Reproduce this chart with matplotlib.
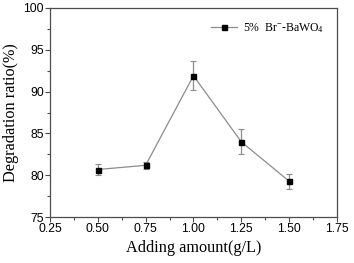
import numpy as np
import matplotlib
matplotlib.use('Agg')
import matplotlib.pyplot as plt
from matplotlib.ticker import MultipleLocator
from matplotlib.lines import Line2D

# data
amount = [0.50, 0.75, 1.00, 1.25, 1.50]
ratio = [80.7, 81.2, 91.9, 84.0, 79.3]
err = [0.6, 0.45, 1.7, 1.5, 0.9]
label = r'5%  Br$^{-}$-BaWO$_4$'

plt.rcParams['font.family'] = ['Liberation Sans']
plt.rcParams['mathtext.fontset'] = 'custom'
plt.rcParams['mathtext.rm'] = 'Liberation Serif'
plt.rcParams['mathtext.it'] = 'Liberation Serif:italic'

fig = plt.figure(figsize=(3.54, 2.63), dpi=100)
ax = fig.add_axes([0.141, 0.174, 0.811, 0.796])

gray = '#8c8c8c'
ax.errorbar(amount, ratio, yerr=err, color=gray, lw=0.9, elinewidth=0.9,
            capsize=2, capthick=0.8, ecolor=gray, marker='s', ms=3.6,
            mfc='black', mec='black')

ax.set_xlim(0.25, 1.75)
ax.set_ylim(75, 100)
ax.xaxis.set_major_locator(MultipleLocator(0.25))
ax.xaxis.set_minor_locator(MultipleLocator(0.125))
ax.yaxis.set_major_locator(MultipleLocator(5))
ax.yaxis.set_minor_locator(MultipleLocator(2.5))

for sp in ax.spines.values():
    sp.set_color('#4d4d4d')
    sp.set_linewidth(0.9)
ax.tick_params(which='major', length=3.5, width=0.8, color='#4d4d4d', labelsize=8.8, pad=1)
ax.tick_params(which='minor', length=2, width=0.8, color='#4d4d4d')

ax.set_xlabel('Adding amount(g/L)', fontfamily='Liberation Serif', fontsize=11.7, labelpad=3)
ax.set_ylabel('Degradation ratio(%)', fontfamily='Liberation Serif', fontsize=11.7, labelpad=3)

handle = Line2D([], [], color=gray, lw=0.9, marker='s', ms=3.6, mfc='black', mec='black')
ax.legend([handle], [label], loc='upper right', frameon=False,
          prop={'family': 'Liberation Serif', 'size': 8.5},
          handlelength=2.2, handletextpad=0.5, borderaxespad=0.7)

fig.savefig('out.png', dpi=100)
